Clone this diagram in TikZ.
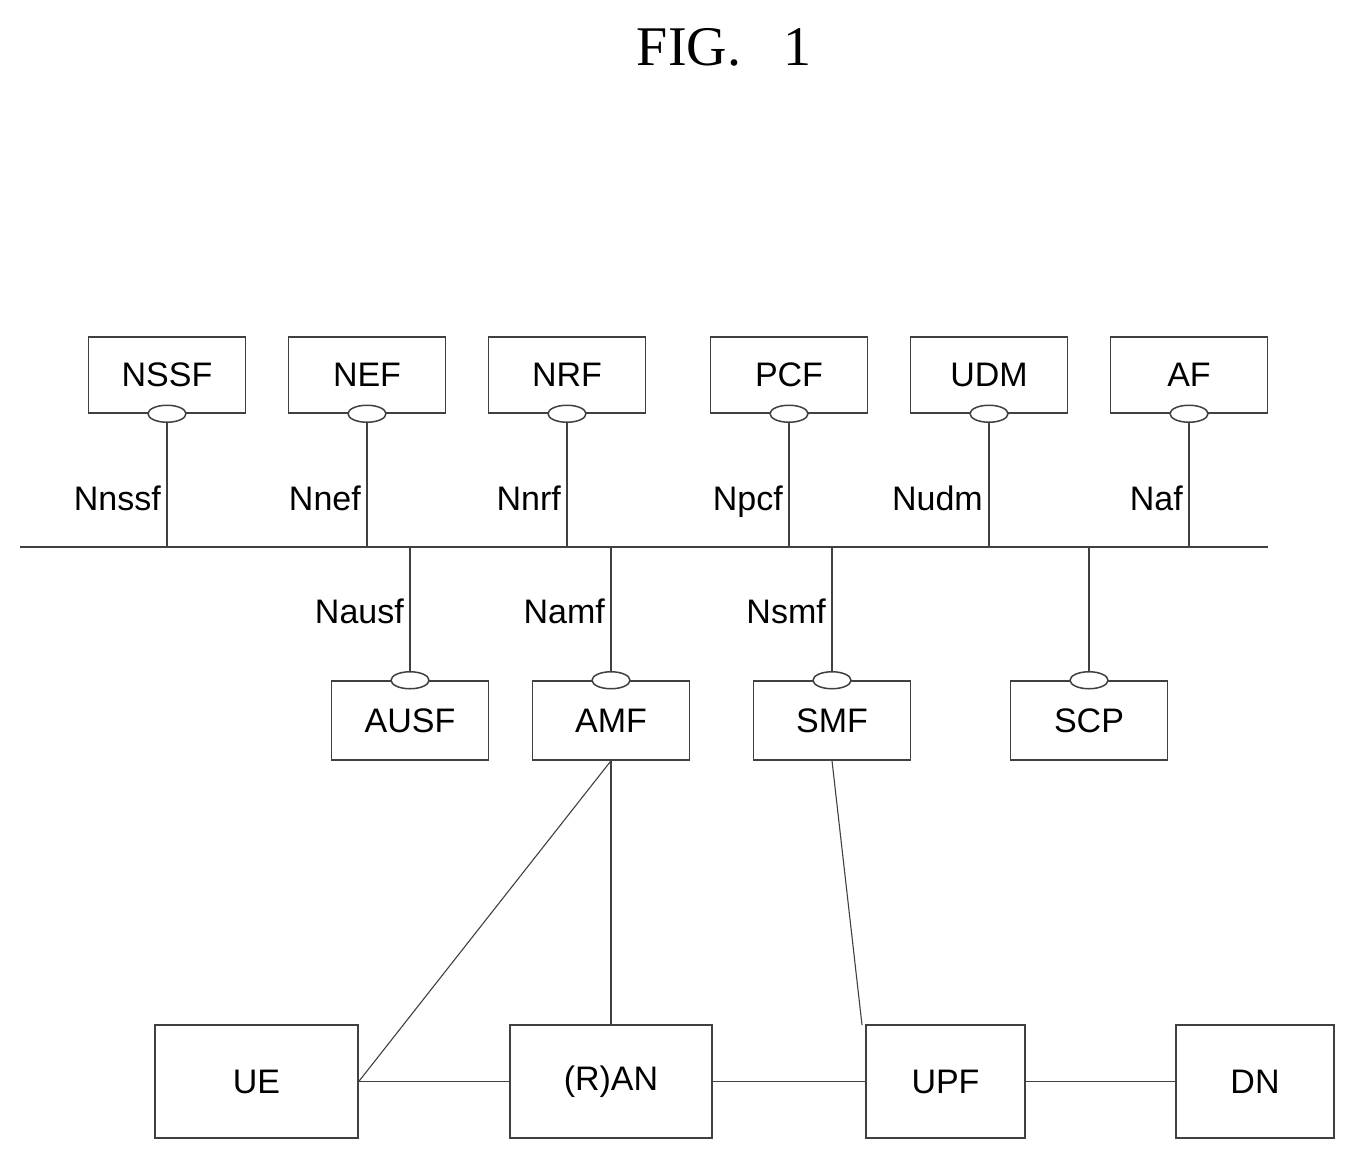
\documentclass[tikz,border=0pt]{standalone}
\usepackage{fontspec}
\usetikzlibrary{shapes.geometric}
\setmainfont{Liberation Sans}
\newfontfamily\titlefont{Liberation Serif}
\begin{document}
\begin{tikzpicture}[x=1pt,y=-1pt,
 box/.style={draw=black!75,line width=1.5pt,minimum width=157pt,inner sep=0pt,font=\fontsize{34}{34}\selectfont},
 ell/.style={draw=black!75,fill=white,line width=1.5pt,ellipse,minimum width=38pt,minimum height=17pt,inner sep=0pt},
 ln/.style={draw=black!75,line width=1.5pt},
 thin/.style={draw=black!75,line width=1.1pt},
 lab/.style={font=\fontsize{34}{34}\selectfont,anchor=base east,inner sep=2pt}]
\useasboundingbox (0,0) rectangle (1356,1159);
\node[font=\titlefont\fontsize{56}{56}\selectfont] (title) at (724,47) {FIG.\ \ \ 1};
\coordinate (busL) at (20,547); \coordinate (busR) at (1268,547);
\draw[ln] (busL) -- (busR);
% top row
\foreach \n/\t/\x/\l in {nssf/NSSF/167/Nnssf, nef/NEF/367/Nnef, nrf/NRF/567/Nnrf, pcf/PCF/789/Npcf, udm/UDM/989/Nudm, af/AF/1189/Naf}{
 \node[box,minimum height=76pt] (\n) at (\x,375) {\t};
 \coordinate (\n b) at (\x,547);
 \draw[ln] (\n.south) -- (\n b);
 \node[ell] (\n e) at (\n.south) {};
 \node[lab] (\n l) at (\x-4,510) {\l};
}
% middle row
\foreach \n/\t/\x in {ausf/AUSF/410, amf/AMF/611, smf/SMF/832, scp/SCP/1089}{
 \node[box,minimum height=79pt] (\n) at (\x,720.5) {\raisebox{-8pt}{\t}};
 \coordinate (\n b) at (\x,547);
 \draw[ln] (\n b) -- (\n.north);
 \node[ell] (\n e) at (\n.north) {};
}
\node[lab] (ausfl) at (406,623) {Nausf};
\node[lab] (amfl) at (607,623) {Namf};
\node[lab] (smfl) at (828,623) {Nsmf};
% bottom row
\node[box,minimum width=203pt,minimum height=113pt] (ue) at (256.5,1081.5) {UE};
\node[box,minimum width=202pt,minimum height=113pt] (ran) at (611,1081.5) {(R)AN};
\node[box,minimum width=159pt,minimum height=113pt] (upf) at (945.5,1081.5) {UPF};
\node[box,minimum width=158pt,minimum height=113pt] (dn) at (1255,1081.5) {DN};
\coordinate (upfin) at (862,1025);
\draw[thin] (ue.east) -- (ran.west);
\draw[ln] (ran.east) -- (upf.west);
\draw[ln] (upf.east) -- (dn.west);
\draw[thin] (amf.south) -- (ran.north);
\draw[thin] (amf.south) -- (ue.east);
\draw[thin] (smf.south) -- (upfin);
\end{tikzpicture}
\end{document}
